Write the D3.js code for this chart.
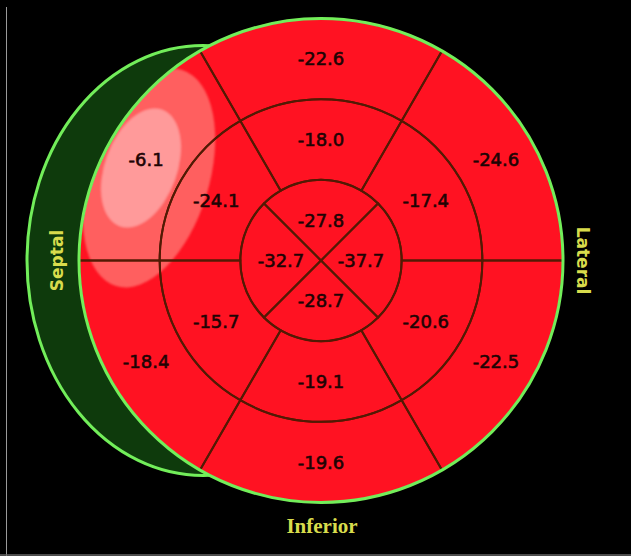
<!DOCTYPE html>
<html>
<head>
<meta charset="utf-8">
<script src="https://cdn.jsdelivr.net/npm/d3@7/dist/d3.min.js"></script>
<style>
  html, body { margin: 0; padding: 0; background: #000; }
  svg { display: block; }
</style>
</head>
<body>
<svg id="chart" width="631" height="556"></svg>
<script>
// Peak systolic longitudinal strain (%), 16-segment bull's-eye
// Basal and mid rings start at the anterior segment and go clockwise
const basalSegments = ["Anterior", "Anterolateral", "Inferolateral", "Inferior", "Inferoseptal", "Anteroseptal"];
const basalValues   = [-22.6, -24.6, -22.5, -19.6, -18.4, -6.1];
const midSegments   = ["Anterior", "Anterolateral", "Inferolateral", "Inferior", "Inferoseptal", "Anteroseptal"];
const midValues     = [-18.0, -17.4, -20.6, -19.1, -15.7, -24.1];
const apicalSegments = ["Anterior", "Lateral", "Inferior", "Septal"];
const apicalValues   = [-27.8, -37.7, -28.7, -32.7];
const wallLabels = ["Septal", "Lateral", "Inferior"];

const W = 631, H = 556;
const cx = 321, cy = 260.5, R = 242;

const svg = d3.select("#chart");
svg.append("rect").attr("width", W).attr("height", H).attr("fill", "#000");

// thin light frame on the left and bottom edges
svg.append("line").attr("x1", 6.5).attr("x2", 6.5).attr("y1", 7).attr("y2", H)
  .attr("stroke", "#9a9a9a").attr("stroke-width", 1);
svg.append("line").attr("x1", 0).attr("x2", W).attr("y1", 555).attr("y2", 555)
  .attr("stroke", "#666").attr("stroke-width", 1.5);

const defs = svg.append("defs");
defs.append("clipPath").attr("id", "plateClip")
  .append("circle").attr("cx", cx).attr("cy", cy).attr("r", R);
defs.append("filter").attr("id", "soft")
  .append("feGaussianBlur").attr("stdDeviation", 0.8);

// ring radii: apex ring, mid ring, basal ring
const ringRadius = d3.scaleLinear().domain([0, 3]).range([0, R]);

// strain colour: everything more negative than about -15 saturates to red
const strainColor = d3.scaleLinear()
  .domain([-15, -6])
  .range(["#ff1222", "#ff1222"])
  .clamp(true);

// septal wall crescent behind the plate
svg.append("ellipse")
  .attr("cx", 203).attr("cy", cy)
  .attr("rx", 176).attr("ry", 215)
  .attr("fill", "#0e3a0c")
  .attr("stroke", "#72ee5a").attr("stroke-width", 3);

const g = svg.append("g").attr("transform", `translate(${cx},${cy})`);

function ring(values, ringIndex) {
  const n = values.length;
  const angle = d3.scaleLinear().domain([0, n]).range([-Math.PI / n, 2 * Math.PI - Math.PI / n]);
  const arc = d3.arc()
    .innerRadius(ringRadius(ringIndex))
    .outerRadius(ringRadius(ringIndex + 1))
    .startAngle((d, i) => angle(i))
    .endAngle((d, i) => angle(i + 1));
  g.append("g").selectAll("path").data(values).join("path")
    .attr("d", arc)
    .attr("fill", d => strainColor(d));
  return arc;
}

const arcs = [ring(apicalValues, 0), ring(midValues, 1), ring(basalValues, 2)];

// low-strain patch over the basal anteroseptal wall
const patch = svg.append("g").attr("clip-path", "url(#plateClip)").attr("filter", "url(#soft)");
patch.append("ellipse")
  .attr("transform", "translate(149,178) rotate(17)")
  .attr("rx", 60).attr("ry", 113)
  .attr("fill", "#ff5e5e");
patch.append("ellipse")
  .attr("transform", "translate(141,168) rotate(20)")
  .attr("rx", 36).attr("ry", 62)
  .attr("fill", "#ff9a9a");

// segment borders drawn above the patch
const borders = svg.append("g").attr("transform", `translate(${cx},${cy})`)
  .attr("fill", "none").attr("stroke", "#521a04").attr("stroke-width", 2);
[apicalValues, midValues, basalValues].forEach((vals, k) => {
  borders.append("g").selectAll("path").data(vals).join("path").attr("d", arcs[k]);
});

// outline of the plate
svg.append("circle").attr("cx", cx).attr("cy", cy).attr("r", R)
  .attr("fill", "none").attr("stroke", "#72ee5a").attr("stroke-width", 3);

// value labels at the centre of each segment
const labelRadius = [40, 121, 202];
const labelLayer = svg.append("g").attr("transform", `translate(${cx},${cy})`);
function labels(values, ringIndex) {
  const n = values.length;
  const step = 2 * Math.PI / n;
  labelLayer.append("g").selectAll("text").data(values).join("text")
    .attr("x", (d, i) => labelRadius[ringIndex] * Math.sin(i * step))
    .attr("y", (d, i) => -labelRadius[ringIndex] * Math.cos(i * step))
    .attr("text-anchor", "middle")
    .attr("dominant-baseline", "central")
    .attr("font-family", "DejaVu Sans, Verdana, sans-serif")
    .attr("font-size", 18)
    .attr("fill", "#1e0404")
    .attr("stroke", "#1e0404").attr("stroke-width", 0.6)
    .text(d => d3.format(".1f")(d).replace("−", "-"));
}
labels(apicalValues, 0);
labels(midValues, 1);
labels(basalValues, 2);

// wall names
const wall = svg.append("g")
  .attr("fill", "#d8dc4c")
  .attr("font-weight", "bold");
wall.append("text")
  .attr("transform", `translate(57,${cy}) rotate(-90)`)
  .attr("text-anchor", "middle").attr("dominant-baseline", "central")
  .attr("font-family", "DejaVu Sans, Verdana, sans-serif").attr("font-size", 17)
  .text(wallLabels[0]);
wall.append("text")
  .attr("transform", `translate(583,${cy}) rotate(90)`)
  .attr("text-anchor", "middle").attr("dominant-baseline", "central")
  .attr("font-family", "DejaVu Sans, Verdana, sans-serif").attr("font-size", 17)
  .text(wallLabels[1]);
wall.append("text")
  .attr("x", 322).attr("y", 533)
  .attr("text-anchor", "middle")
  .attr("font-family", "Liberation Serif, Times New Roman, serif").attr("font-size", 21)
  .text(wallLabels[2]);
</script>
</body>
</html>
